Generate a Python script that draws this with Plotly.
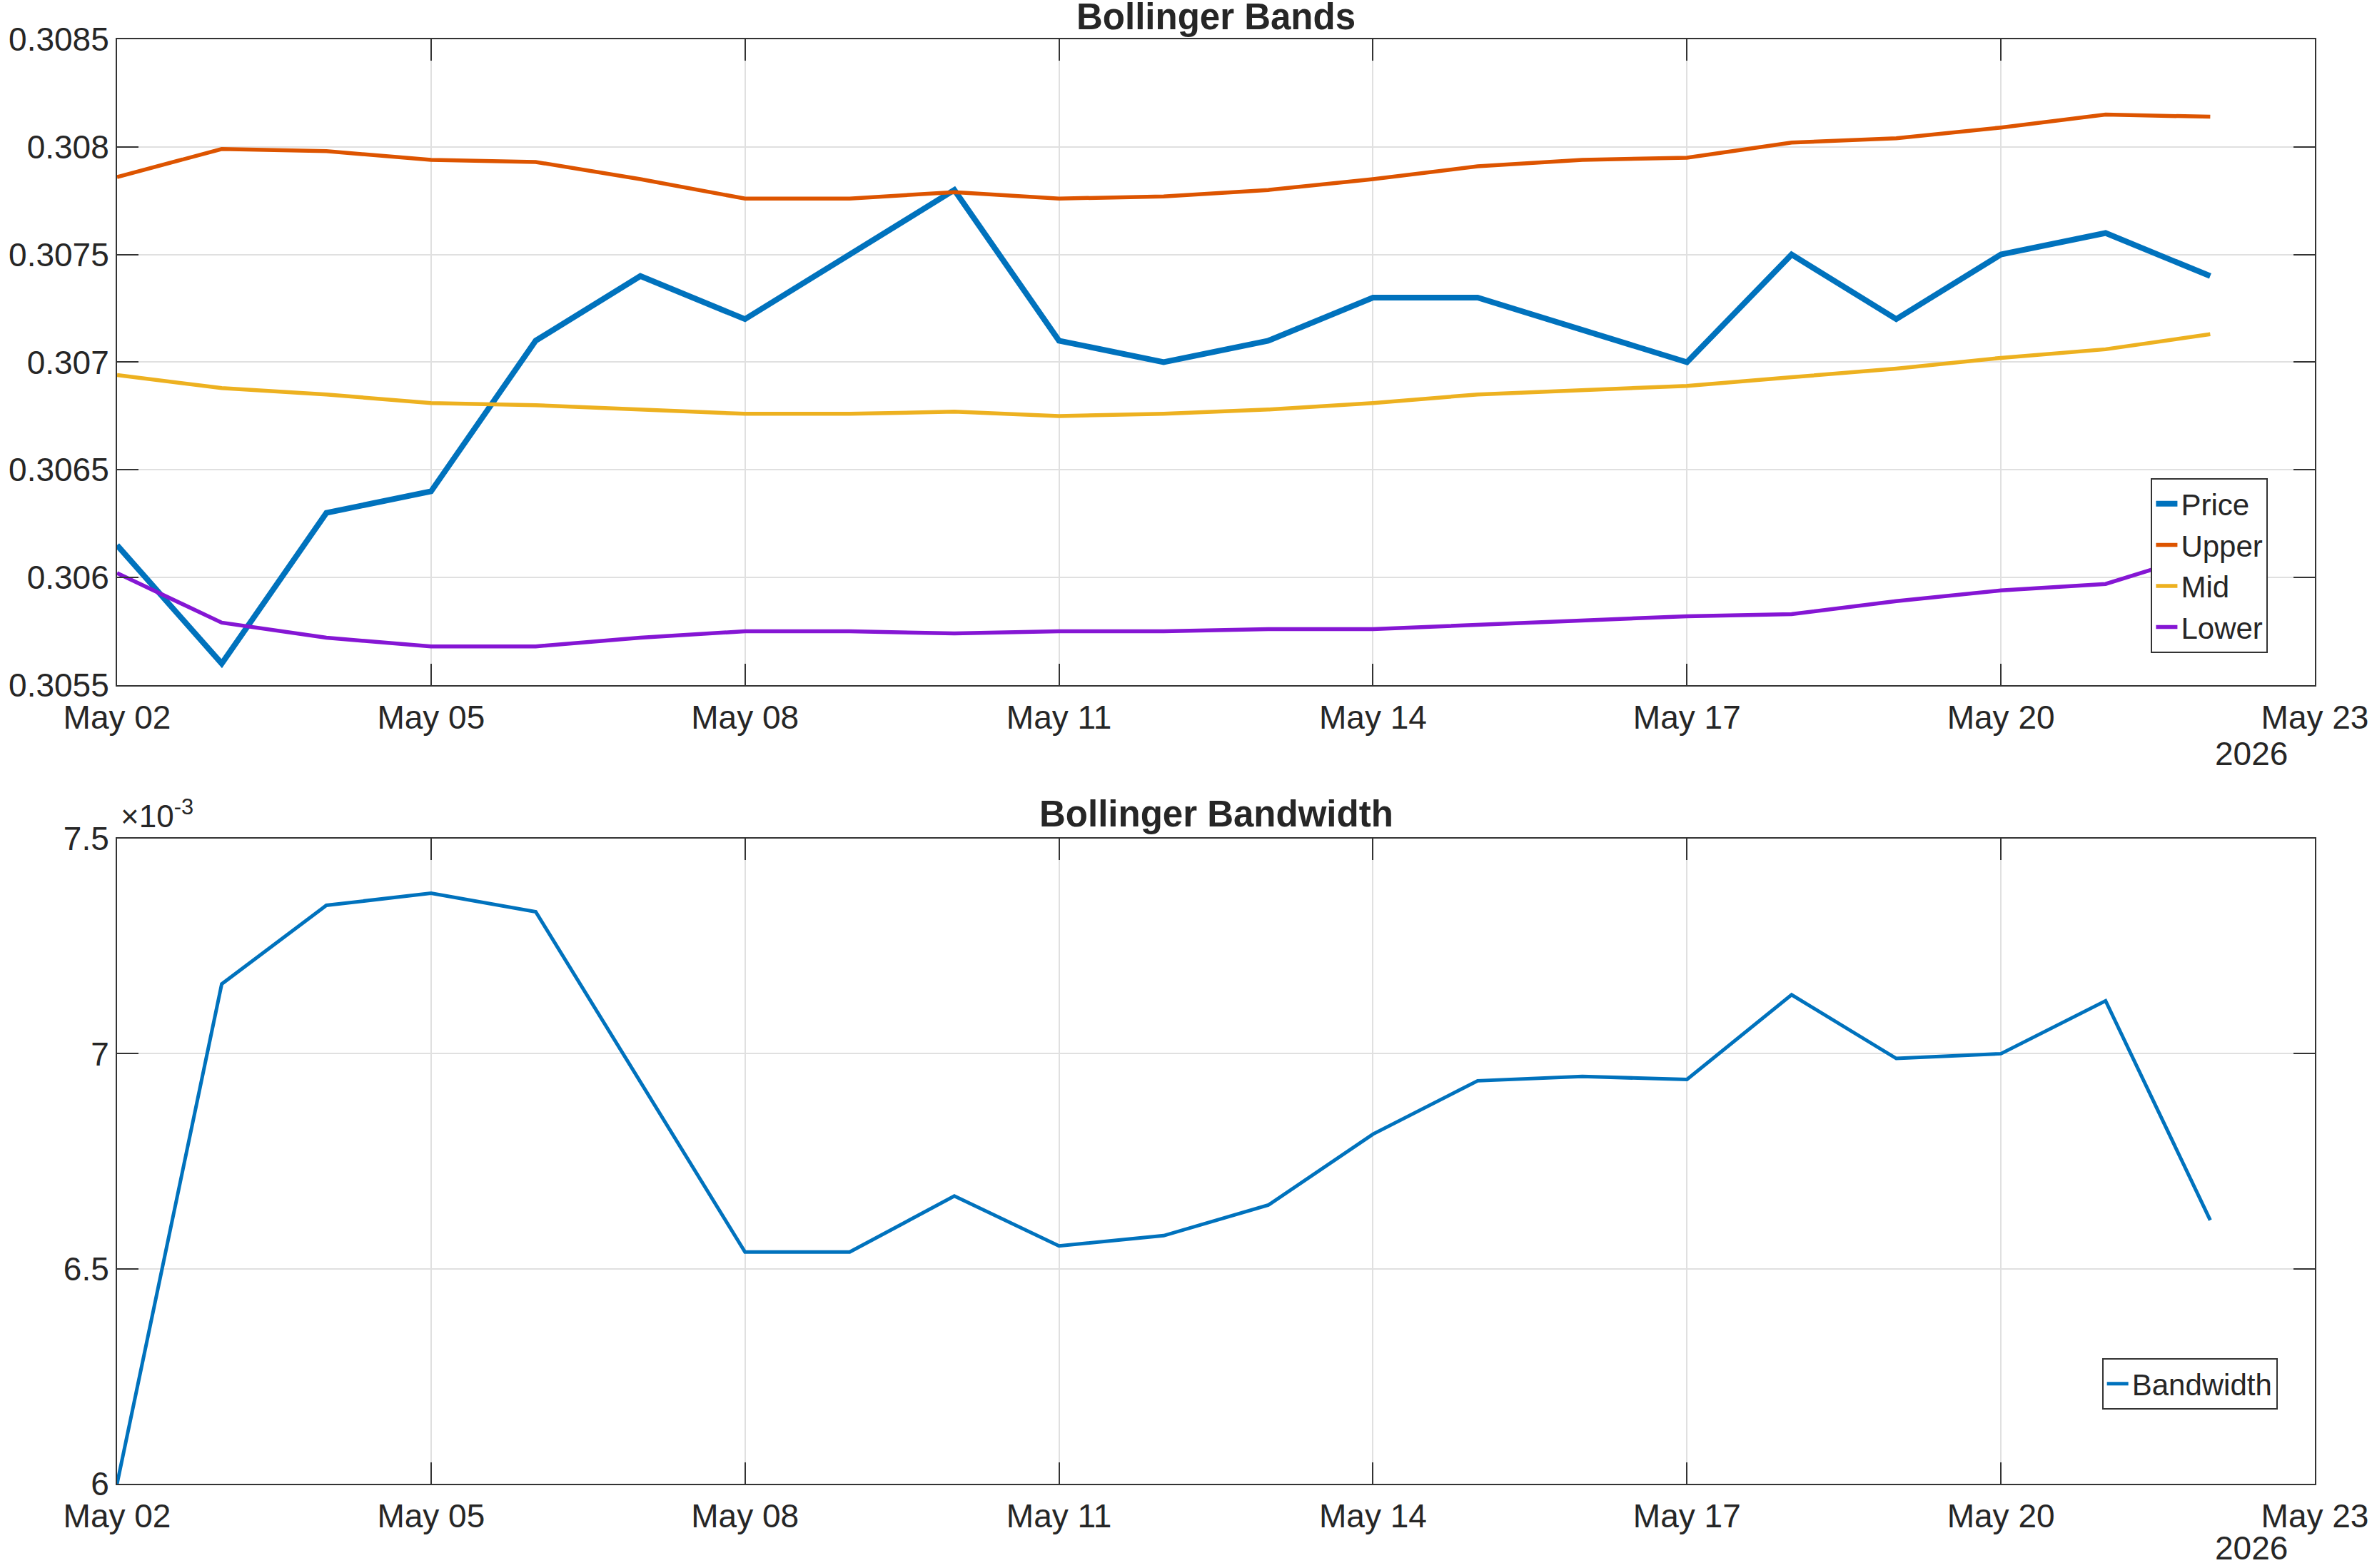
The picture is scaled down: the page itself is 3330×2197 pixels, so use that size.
import plotly.graph_objects as go
from plotly.subplots import make_subplots

dates = [f"2026-05-{d:02d}" for d in range(2, 23)]

price = [0.30615, 0.30560, 0.30630, 0.30640, 0.30710, 0.30740, 0.30720, 0.30750,
         0.30780, 0.30710, 0.30700, 0.30710, 0.30730, 0.30730, 0.30715, 0.30700,
         0.30750, 0.30720, 0.30750, 0.30760, 0.30740]
upper = [0.30786, 0.30799, 0.30798, 0.30794, 0.30793, 0.30785, 0.30776, 0.30776,
         0.30779, 0.30776, 0.30777, 0.30780, 0.30785, 0.30791, 0.30794, 0.30795,
         0.30802, 0.30804, 0.30809, 0.30815, 0.30814]
mid = [0.30694, 0.30688, 0.30685, 0.30681, 0.30680, 0.30678, 0.30676, 0.30676,
       0.30677, 0.30675, 0.30676, 0.30678, 0.30681, 0.30685, 0.30687, 0.30689,
       0.30693, 0.30697, 0.30702, 0.30706, 0.30713]
lower = [0.30602, 0.30579, 0.30572, 0.30568, 0.30568, 0.30572, 0.30575, 0.30575,
         0.30574, 0.30575, 0.30575, 0.30576, 0.30576, 0.30578, 0.30580, 0.30582,
         0.30583, 0.30589, 0.30594, 0.30597, 0.30612]
bandwidth = [0.006000, 0.007162, 0.007345, 0.007373, 0.007330, 0.006935, 0.006539,
             0.006539, 0.006669, 0.006553, 0.006577, 0.006648, 0.006813, 0.006937,
             0.006947, 0.006940, 0.007137, 0.006989, 0.007000, 0.007123, 0.006613]

x_tick_vals = ["2026-05-02", "2026-05-05", "2026-05-08", "2026-05-11",
               "2026-05-14", "2026-05-17", "2026-05-20", "2026-05-23"]
x_tick_text = ["May 02", "May 05", "May 08", "May 11", "May 14", "May 17", "May 20", "May 23"]
top_tick_vals = [0.3055, 0.306, 0.3065, 0.307, 0.3075, 0.308, 0.3085]
top_tick_text = ["0.3055", "0.306", "0.3065", "0.307", "0.3075", "0.308", "0.3085"]
bot_tick_vals = [0.006, 0.0065, 0.007, 0.0075]
bot_tick_text = ["6", "6.5", "7", "7.5"]

BLUE = "#0072BD"
ORANGE = "#DD5400"
YELLOW = "#EDB120"
PURPLE = "#8516D4"
TXT = "#262626"
AX = "#333333"
GRID = "#E0E0E0"
FONT = "Liberation Sans, Arial, sans-serif"

fig = make_subplots(rows=2, cols=1, vertical_spacing=0.1063)

fig.add_trace(go.Scatter(x=dates, y=price, name="Price", mode="lines",
                         line=dict(color=BLUE, width=8), legend="legend"), row=1, col=1)
fig.add_trace(go.Scatter(x=dates, y=upper, name="Upper", mode="lines",
                         line=dict(color=ORANGE, width=5.5), legend="legend"), row=1, col=1)
fig.add_trace(go.Scatter(x=dates, y=mid, name="Mid", mode="lines",
                         line=dict(color=YELLOW, width=5.5), legend="legend"), row=1, col=1)
fig.add_trace(go.Scatter(x=dates, y=lower, name="Lower", mode="lines",
                         line=dict(color=PURPLE, width=5.5), legend="legend"), row=1, col=1)
fig.add_trace(go.Scatter(x=dates, y=bandwidth, name="Bandwidth", mode="lines",
                         line=dict(color=BLUE, width=5), legend="legend2"), row=2, col=1)

axis_common = dict(showline=True, linecolor=AX, linewidth=2, mirror="ticks",
                   ticks="inside", ticklen=30, tickwidth=2, tickcolor=AX,
                   showgrid=True, gridcolor=GRID, gridwidth=2, zeroline=False,
                   tickfont=dict(family=FONT, size=46, color=TXT))

for r in (1, 2):
    fig.update_xaxes(type="date", range=["2026-05-02", "2026-05-23"],
                     tickmode="array", tickvals=x_tick_vals, ticktext=x_tick_text,
                     ticklabelstandoff=4, row=r, col=1, **axis_common)

fig.update_yaxes(range=[0.3055, 0.3085], tickmode="array", tickvals=top_tick_vals,
                 ticktext=top_tick_text, row=1, col=1, **axis_common)
fig.update_yaxes(range=[0.006, 0.0075], tickmode="array", tickvals=bot_tick_vals,
                 ticktext=bot_tick_text, row=2, col=1, **axis_common)

fig.update_xaxes(domain=[0, 1])
fig.update_yaxes(domain=[0.5529, 1], row=1, col=1)
fig.update_yaxes(domain=[0, 0.4466], row=2, col=1)

legend_style = dict(bgcolor="white", bordercolor=AX, borderwidth=2,
                    font=dict(family=FONT, size=42, color=TXT),
                    xanchor="right", yanchor="bottom", xref="paper", yref="paper",
                    tracegroupgap=0)

fig.update_layout(
    width=3330, height=2197,
    margin=dict(l=163, r=78, t=55, b=118),
    paper_bgcolor="white", plot_bgcolor="white",
    font=dict(family=FONT, color=TXT),
    showlegend=True,
    legend=dict(x=0.9787, y=0.5751, entrywidth=190, **legend_style),
    legend2=dict(x=0.983, y=0.0514, entrywidth=300, **legend_style),
    annotations=[
        dict(text="<b>Bollinger Bands</b>", x=0.5, y=1.0155, xref="paper", yref="paper",
             showarrow=False, xanchor="center", yanchor="middle",
             font=dict(family=FONT, size=51, color=TXT)),
        dict(text="<b>Bollinger Bandwidth</b>", x=0.5, y=0.4639, xref="paper", yref="paper",
             showarrow=False, xanchor="center", yanchor="middle",
             font=dict(family=FONT, size=51, color=TXT)),
        dict(text="2026", x=0.9712, y=0.5054, xref="paper", yref="paper",
             showarrow=False, xanchor="center", yanchor="middle",
             font=dict(family=FONT, size=46, color=TXT)),
        dict(text="2026", x=0.9712, y=-0.0445, xref="paper", yref="paper",
             showarrow=False, xanchor="center", yanchor="middle",
             font=dict(family=FONT, size=46, color=TXT)),
        dict(text="×10<sup>-3</sup>", x=0.001, y=0.4639, xref="paper", yref="paper",
             showarrow=False, xanchor="left", yanchor="middle",
             font=dict(family=FONT, size=44, color=TXT)),
    ],
)

fig.write_html("out.html")
